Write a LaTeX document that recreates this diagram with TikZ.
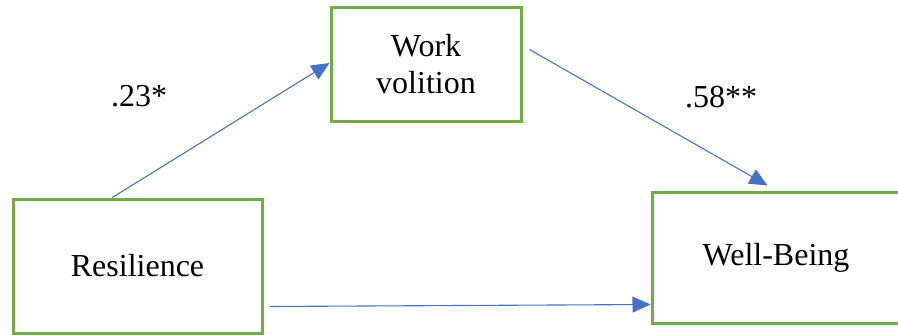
\documentclass[tikz,border=0pt]{standalone}
\usepackage{fontspec}
\setmainfont{Liberation Serif}
\usetikzlibrary{arrows.meta,calc}
\definecolor{boxgreen}{HTML}{70AD47}
\definecolor{arrowblue}{HTML}{4472C4}
\begin{document}
\begin{tikzpicture}[x=1pt,y=-1pt,
  varbox/.style={draw=boxgreen,line width=3pt,fill=white,inner sep=0pt,
    align=center,font=\fontsize{32}{37}\selectfont},
  pathline/.style={draw=arrowblue,line width=1.1pt,-{Triangle[length=18pt,width=16pt]}},
  coef/.style={font=\fontsize{32}{37}\selectfont,inner sep=0pt}]
\useasboundingbox (0,0) rectangle (898,335);
\clip (0,0) rectangle (898,335);
\node[varbox,minimum width=190pt,minimum height=114pt] (wv) at (426,64) {Work\\volition};
\node[varbox,minimum width=249pt,minimum height=134pt] (res) at (137.5,266) {Resilience};
\node[varbox,minimum width=248pt,minimum height=131pt] (wb) at (776,257.5) {Well-Being};
\coordinate (a1s) at ($(res.north west)!0.4!(res.north east)$);
\coordinate (a1e) at ([yshift=1pt]wv.west);
\coordinate (a2s) at ($(wv.north east)+(7,44)$);
\coordinate (a2e) at ($(wb.north west)+(117,-5)$);
\coordinate (a3s) at ($(res.south east)+(6,-28)$);
\coordinate (a3e) at ($(wb.south west)+(0,-20)$);
\draw[pathline] (a1s) -- (a1e);
\draw[pathline] (a2s) -- (a2e);
\draw[pathline] (a3s) -- (a3e);
\node[coef] (c1) at (139,96) {.23*};
\node[coef] (c2) at (721,97) {.58**};
\end{tikzpicture}
\end{document}
